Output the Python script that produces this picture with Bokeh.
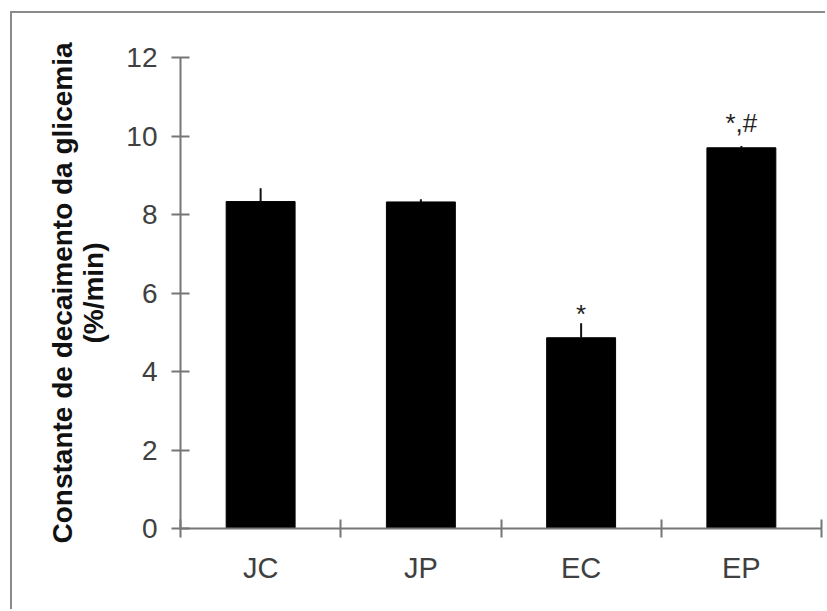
from bokeh.plotting import figure
from bokeh.models import Range1d, FixedTicker, ColumnDataSource, LinearAxis
from bokeh.embed import file_html
from bokeh.resources import INLINE
from bokeh.core.properties import value

# ---- data ----
categories = ["JC", "JP", "EC", "EP"]
means = [8.33, 8.32, 4.86, 9.70]
errors = [0.34, 0.07, 0.37, 0.045]
marks = ["", "", "*", "*,#"]
y_ticks = [0, 2, 4, 6, 8, 10, 12]

# ---- style ----
mark_offsets_px = [0, 0, -9, -23]
FONT = "Liberation Sans"
AXIS_COLOR = "#767676"

x_centers = [i + 0.5 for i in range(len(categories))]
x_bounds = list(range(len(categories) + 1))
tops = [m + e for m, e in zip(means, errors)]

src = ColumnDataSource(dict(x=x_centers, mean=means, top=tops, mark=marks, yoff=mark_offsets_px))

p = figure(width=815, height=598,
           x_range=Range1d(0, len(categories)), y_range=Range1d(0, 12),
           output_backend="svg", toolbar_location=None,
           x_axis_type=None, y_axis_type=None,
           min_border_left=168, min_border_right=6, min_border_top=44, min_border_bottom=83,
           margin=(13, 0, 0, 12),
           styles={"box-shadow": "-2px -2px 0px 0px #8a8a8a"})
p.outline_line_color = None
p.xgrid.visible = False
p.ygrid.visible = False
p.background_fill_color = "white"
p.border_fill_color = "white"

p.vbar(x="x", top="mean", bottom=0, width=0.43, source=src,
       fill_color="black", line_color="black")
p.segment(x0="x", y0="mean", x1="x", y1="top", source=src,
          line_color="#111111", line_width=2)
p.text(x="x", y="top", text="mark", y_offset="yoff", source=src,
       text_align="center", text_baseline="alphabetic",
       text_font=value(FONT), text_font_size="26px", text_color="#222222")

xaxis = LinearAxis(ticker=FixedTicker(ticks=x_centers, minor_ticks=x_bounds),
                   major_label_overrides={c: lab for c, lab in zip(x_centers, categories)})
xaxis.major_tick_line_color = None
xaxis.major_tick_in = 0
xaxis.major_tick_out = 0
xaxis.minor_tick_in = 9
xaxis.minor_tick_out = 9
xaxis.minor_tick_line_color = AXIS_COLOR
xaxis.minor_tick_line_width = 2
xaxis.axis_line_color = AXIS_COLOR
xaxis.axis_line_width = 2
xaxis.major_label_standoff = 14
xaxis.major_label_text_font = FONT
xaxis.major_label_text_font_size = "29px"
xaxis.major_label_text_color = "#404040"
p.add_layout(xaxis, "below")

yaxis = LinearAxis(ticker=FixedTicker(ticks=y_ticks, minor_ticks=[]))
yaxis.major_tick_in = 9
yaxis.major_tick_out = 9
yaxis.major_tick_line_color = AXIS_COLOR
yaxis.major_tick_line_width = 2
yaxis.minor_tick_line_color = None
yaxis.axis_line_color = AXIS_COLOR
yaxis.axis_line_width = 2
yaxis.major_label_standoff = 14
yaxis.major_label_text_font = FONT
yaxis.major_label_text_font_size = "28px"
yaxis.major_label_text_color = "#404040"
yaxis.axis_label = "Constante de decaimento da glicemia\n(%/min)"
yaxis.axis_label_text_font = FONT
yaxis.axis_label_text_font_style = "bold"
yaxis.axis_label_text_font_size = "28px"
yaxis.axis_label_text_color = "#111111"
yaxis.axis_label_text_line_height = 1.0
yaxis.axis_label_standoff = 14
p.add_layout(yaxis, "left")

open("out.html", "w").write(file_html(p, INLINE))
